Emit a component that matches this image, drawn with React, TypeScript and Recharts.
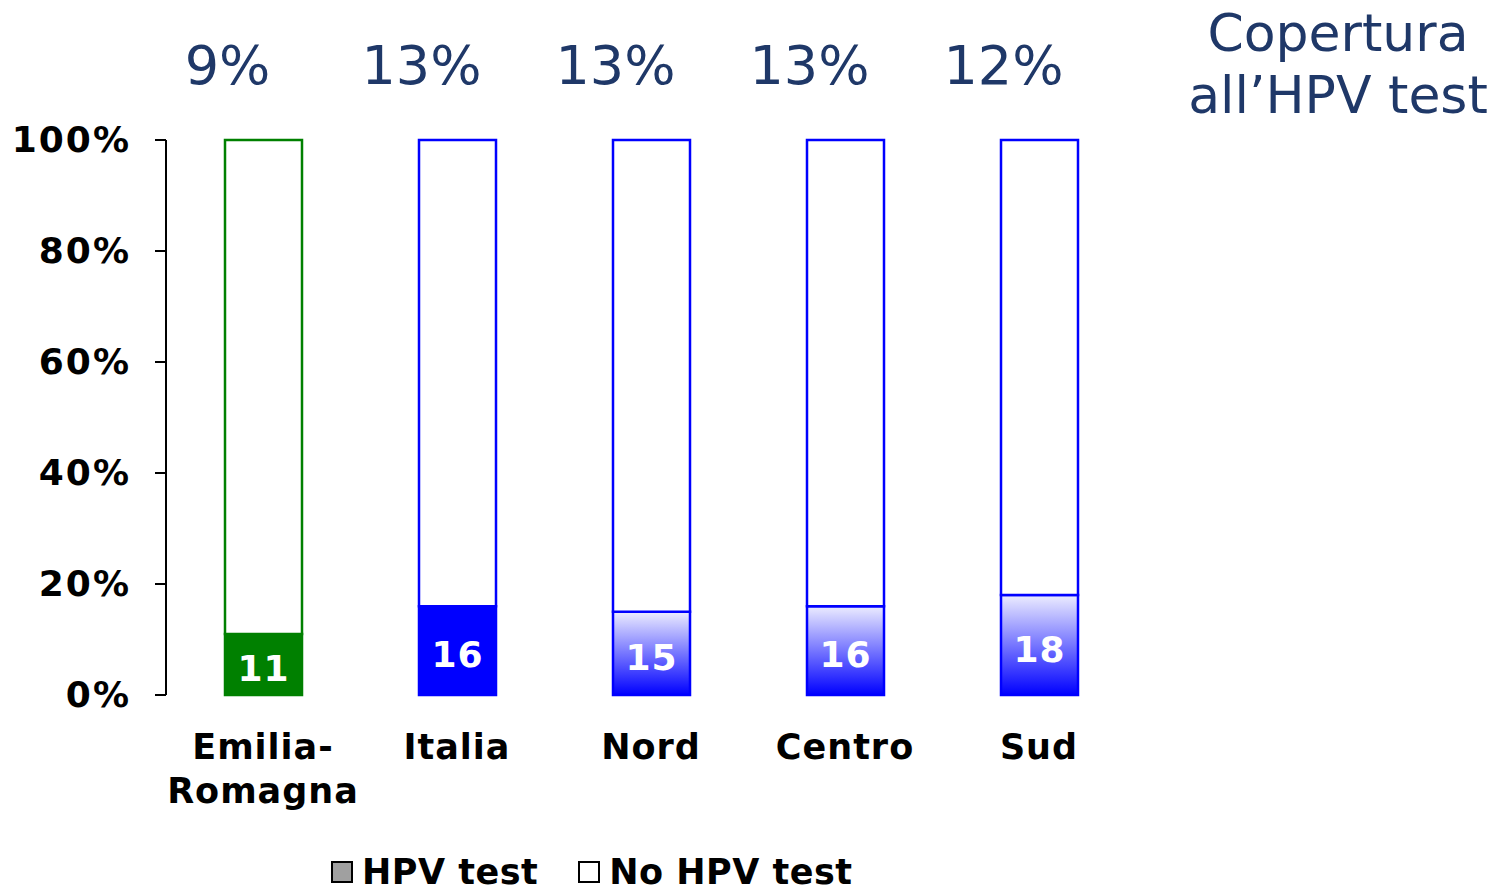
import { BarChart, Bar, XAxis, YAxis, Cell, LabelList } from "recharts";

const regions = ["Emilia-Romagna", "Italia", "Nord", "Centro", "Sud"];
const hpvTest = [11, 16, 15, 16, 18];
const noHpvTest = [89, 84, 85, 84, 82];
const coverage = [9, 13, 13, 13, 12];
const yTicks = [0, 20, 40, 60, 80, 100];

const fills = ["#008000", "#0000ff", "url(#blueFade)", "url(#blueFade)", "url(#blueFade)"];
const strokes = ["#008000", "#0000ff", "#0000ff", "#0000ff", "#0000ff"];

const data = regions.map((r, i) => ({ region: r, hpv: hpvTest[i], noHpv: noHpvTest[i], cov: coverage[i] }));

const font = "'DejaVu Sans', Verdana, sans-serif";
const navy = "#1f3868";

function RegionTick({ x, y, payload }: any) {
  const parts = payload.value === "Emilia-Romagna" ? ["Emilia-", "Romagna"] : [payload.value];
  return (
    <text x={x} y={y} textAnchor="middle" fontFamily={font} fontWeight="bold" fontSize={35} letterSpacing={1} fill="#000">
      {parts.map((p, i) => (
        <tspan key={i} x={x} dy={i === 0 ? 56 : 44}>{p}</tspan>
      ))}
    </text>
  );
}

function YTick({ x, y, payload }: any) {
  return (
    <text x={x} y={y} dy={12} textAnchor="end" fontFamily={font} fontWeight="bold" fontSize={36} letterSpacing={2} fill="#000">
      {payload.value}%
    </text>
  );
}

function CoverageLabel({ x, width, index }: any) {
  return (
    <text x={x + width / 2 - 36} y={84} textAnchor="middle" fontFamily={font} fontSize={54} fill={navy}>
      {coverage[index]}%
    </text>
  );
}

export default function App() {
  return (
    <div style={{ position: "absolute", left: 0, top: 0, width: 1496, height: 894, background: "#fff", overflow: "hidden" }}>
      <BarChart width={1496} height={894} data={data} margin={{ top: 140, right: 360, bottom: 79, left: 0 }} barSize={77}>
        <defs>
          <linearGradient id="blueFade" x1="0" y1="1" x2="0" y2="0">
            <stop offset="0%" stopColor="#0000ff" />
            <stop offset="100%" stopColor="#ececff" />
          </linearGradient>
        </defs>
        <XAxis dataKey="region" axisLine={false} tickLine={false} height={120} tick={<RegionTick />} interval={0} />
        <YAxis
          domain={[0, 100]}
          ticks={yTicks}
          width={166}
          tickSize={11}
          tickMargin={24}
          axisLine={{ stroke: "#000", strokeWidth: 2 }}
          tickLine={{ stroke: "#000", strokeWidth: 2 }}
          tick={<YTick />}
        />
        <Bar dataKey="hpv" stackId="s" isAnimationActive={false} strokeWidth={2.5}>
          {data.map((d, i) => (
            <Cell key={d.region} fill={fills[i]} stroke={strokes[i]} />
          ))}
          <LabelList dataKey="hpv" position="center" dy={4} fill="#fff" fontFamily={font} fontWeight="bold" fontSize={36} letterSpacing={1} />
        </Bar>
        <Bar dataKey="noHpv" stackId="s" isAnimationActive={false} strokeWidth={2.5}>
          {data.map((d, i) => (
            <Cell key={d.region} fill="#fff" stroke={strokes[i]} />
          ))}
          <LabelList dataKey="cov" content={<CoverageLabel />} />
        </Bar>
      </BarChart>
      <div style={{ position: "absolute", left: 1140, width: 396, top: 2, textAlign: "center", fontFamily: font, fontSize: 52, lineHeight: "62px", color: navy }}>
        Copertura<br />all’HPV test
      </div>
      <div style={{ position: "absolute", left: 331, top: 852, display: "flex", alignItems: "center", fontFamily: font, fontWeight: "bold", fontSize: 35, letterSpacing: 0.5, lineHeight: "40px", color: "#000", whiteSpace: "nowrap" }}>
        <span style={{ width: 18, height: 18, background: "#a0a0a0", border: "2px solid #000", display: "inline-block", marginRight: 9 }} />
        <span>HPV test</span>
        <span style={{ width: 18, height: 18, background: "#fff", border: "2px solid #000", display: "inline-block", marginLeft: 40, marginRight: 9 }} />
        <span>No HPV test</span>
      </div>
    </div>
  );
}
